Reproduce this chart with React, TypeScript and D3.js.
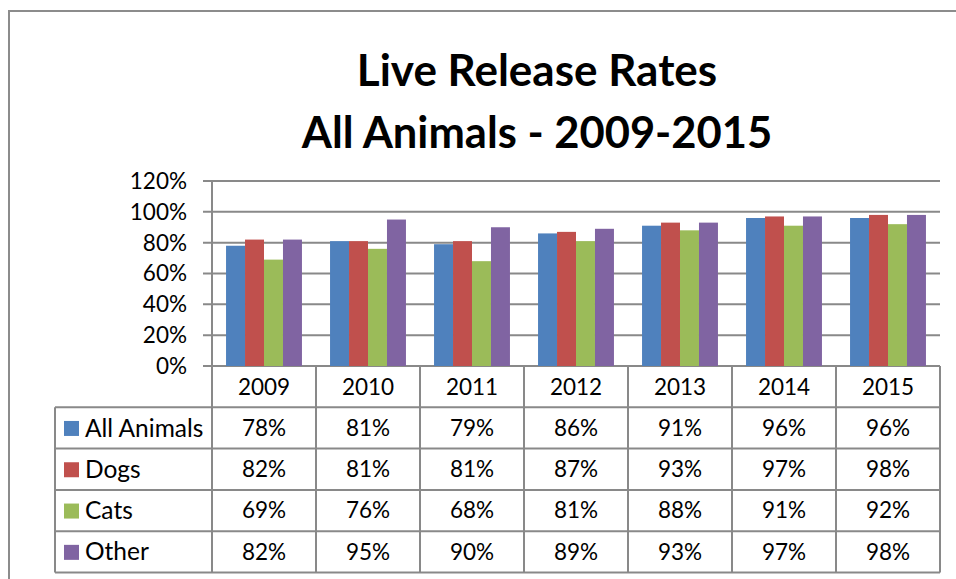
import React from "react";
import * as d3 from "d3";

const years = ["2009", "2010", "2011", "2012", "2013", "2014", "2015"];
const seriesNames = ["All Animals", "Dogs", "Cats", "Other"];
const allAnimals = [78, 81, 79, 86, 91, 96, 96];
const dogs = [82, 81, 81, 87, 93, 97, 98];
const cats = [69, 76, 68, 81, 88, 91, 92];
const other = [82, 95, 90, 89, 93, 97, 98];
const yTicks = [0, 20, 40, 60, 80, 100, 120];
const colors = ["#4F81BD", "#C0504D", "#9BBB59", "#8064A2"];

const width = 956;
const height = 579;
const plot = { left: 212, right: 940, top: 181, bottom: 366 };
const tableLeft = 55;
const rowH = 41.3;
const font = "Lato, 'Open Sans', sans-serif";
const grid = "#898989";
const numSize = 22.5;
const nameSize = 24.5;

const App: React.FC = () => {
  const values = [allAnimals, dogs, cats, other];

  const x = d3.scaleBand<string>().domain(years).range([plot.left, plot.right]);
  const xInner = d3
    .scaleBand<number>()
    .domain(d3.range(seriesNames.length))
    .range([0, x.bandwidth()])
    .paddingInner(0)
    .paddingOuter(0.74);
  const y = d3.scaleLinear().domain([0, 120]).range([plot.bottom, plot.top]);

  const headerBottom = plot.bottom + rowH;
  const rowY = (i: number) => headerBottom + i * rowH;
  const tableBottom = rowY(seriesNames.length);

  return (
    <svg
      width={width}
      height={height}
      style={{ position: "absolute", left: 0, top: 0, background: "#fff" }}
    >
      <rect x={9} y={11} width={1000} height={620} fill="#fff" stroke="#8c8c8c" strokeWidth={2} />

      <text x={537} y={86} textAnchor="middle" fontFamily={font} fontWeight="bold" fontSize={44}>
        Live Release Rates
      </text>
      <text x={537} y={148} textAnchor="middle" fontFamily={font} fontWeight="bold" fontSize={43.5}>
        All Animals - 2009-2015
      </text>

      {yTicks.map((t) => (
        <g key={t}>
          <line x1={plot.left - 9} x2={plot.right} y1={y(t)} y2={y(t)} stroke={grid} strokeWidth={2} />
          <text x={187} y={y(t)} dy="0.35em" textAnchor="end" fontFamily={font} fontSize={numSize}>
            {t}%
          </text>
        </g>
      ))}

      {values.map((vals, si) =>
        vals.map((v, i) => (
          <rect
            key={`${si}-${i}`}
            x={(x(years[i]) ?? 0) + (xInner(si) ?? 0)}
            y={y(v)}
            width={xInner.bandwidth()}
            height={plot.bottom - y(v)}
            fill={colors[si]}
          />
        ))
      )}

      {/* data table */}
      <line x1={plot.left} x2={plot.left} y1={plot.top} y2={tableBottom} stroke={grid} strokeWidth={2} />
      {years.map((yr) => (
        <g key={yr}>
          <line
            x1={(x(yr) ?? 0) + x.bandwidth()}
            x2={(x(yr) ?? 0) + x.bandwidth()}
            y1={plot.bottom}
            y2={tableBottom}
            stroke={grid}
            strokeWidth={2}
          />
          <text
            x={(x(yr) ?? 0) + x.bandwidth() / 2}
            y={plot.bottom + rowH / 2}
            dy="0.35em"
            textAnchor="middle"
            fontFamily={font}
            fontSize={numSize}
          >
            {yr}
          </text>
        </g>
      ))}
      <line x1={tableLeft} x2={tableLeft} y1={headerBottom} y2={tableBottom} stroke={grid} strokeWidth={2} />
      {d3.range(seriesNames.length + 1).map((i) => (
        <line key={i} x1={tableLeft} x2={plot.right} y1={rowY(i)} y2={rowY(i)} stroke={grid} strokeWidth={2} />
      ))}
      {seriesNames.map((name, si) => (
        <g key={name}>
          <rect x={64} y={rowY(si) + rowH / 2 - 7} width={15} height={15} fill={colors[si]} />
          <text x={85} y={rowY(si) + rowH / 2} dy="0.35em" fontFamily={font} fontSize={nameSize}>
            {name}
          </text>
          {values[si].map((v, i) => (
            <text
              key={i}
              x={(x(years[i]) ?? 0) + x.bandwidth() / 2}
              y={rowY(si) + rowH / 2}
              dy="0.35em"
              textAnchor="middle"
              fontFamily={font}
              fontSize={numSize}
            >
              {v}%
            </text>
          ))}
        </g>
      ))}
    </svg>
  );
};

export default App;
